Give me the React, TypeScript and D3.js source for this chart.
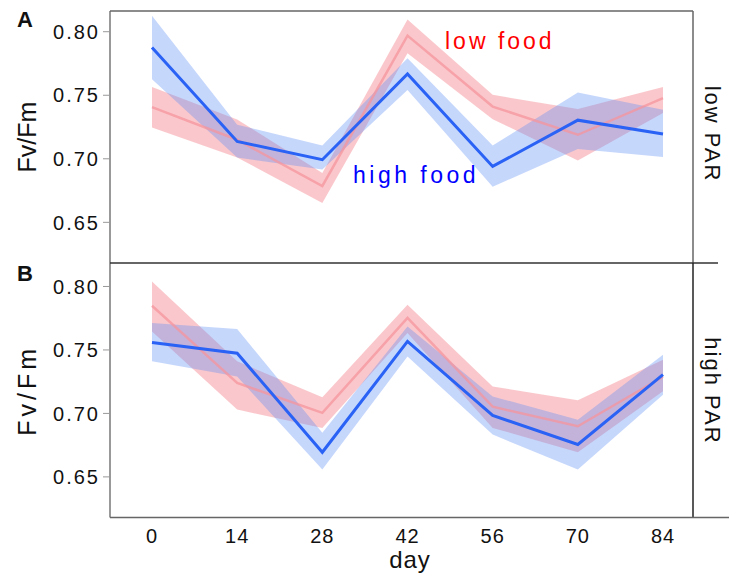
import React from 'react';
import { scaleLinear, line, area } from 'd3';

const days = [0, 14, 28, 42, 56, 70, 84];
const yTicks = [0.65, 0.7, 0.75, 0.8];

// panel A (low PAR)
const aHighMean = [0.7875, 0.7137, 0.6993, 0.7668, 0.694, 0.7304, 0.7195];
const aHighLo = [0.7626, 0.701, 0.6915, 0.7542, 0.678, 0.7077, 0.7014];
const aHighHi = [0.8126, 0.7268, 0.7105, 0.7791, 0.7105, 0.7521, 0.7385];
const aLowMean = [0.7407, 0.715, 0.6786, 0.7969, 0.7411, 0.7189, 0.7477];
const aLowLo = [0.7247, 0.701, 0.6653, 0.783, 0.7312, 0.6987, 0.736];
const aLowHi = [0.7564, 0.731, 0.6889, 0.8097, 0.7503, 0.7391, 0.7564];

// panel B (high PAR)
const bHighMean = [0.7559, 0.7474, 0.6694, 0.7567, 0.6984, 0.6755, 0.7305];
const bHighLo = [0.741, 0.729, 0.6558, 0.7449, 0.6833, 0.6558, 0.7148];
const bHighHi = [0.7712, 0.7665, 0.6847, 0.7685, 0.7134, 0.6951, 0.7463];
const bLowMean = [0.7848, 0.724, 0.7004, 0.7753, 0.7053, 0.6899, 0.7289];
const bLowLo = [0.7646, 0.703, 0.6886, 0.7633, 0.6886, 0.6694, 0.7174];
const bLowHi = [0.8039, 0.741, 0.7127, 0.7856, 0.7213, 0.7103, 0.7423];

const font = '"Liberation Sans", Arial, sans-serif';
const left = 110;
const right = 693;

const x = scaleLinear().domain([0, 84]).range([152, 663]);

function Panel({ top, bottom, yMax, highMean, highLo, highHi, lowMean, lowLo, lowHi, ylabelSpacing }) {
  const y = scaleLinear().domain([0.618, yMax]).range([bottom, top]);
  const band = (lo, hi) =>
    area<number>()
      .x((d, i) => x(d))
      .y0((d, i) => y(lo[i]))
      .y1((d, i) => y(hi[i]))(days);
  const path = (vals) =>
    line<number>()
      .x((d) => x(d))
      .y((d, i) => y(vals[i]))(days);
  const mid = (top + bottom) / 2;
  return (
    <g>
      <path d={band(lowLo, lowHi)} fill="#f0606e" fillOpacity={0.35} />
      <path d={band(highLo, highHi)} fill="#5b8cf5" fillOpacity={0.35} />
      <path d={path(lowMean)} fill="none" stroke="#f5949c" strokeOpacity={0.75} strokeWidth={2.5} />
      <path d={path(highMean)} fill="none" stroke="#2962f5" strokeWidth={3} />
      <line x1={left} x2={left} y1={top} y2={bottom} stroke="#777" strokeWidth={1.5} />
      {yTicks.map((t) => (
        <g key={t}>
          <line x1={left - 7} x2={left} y1={y(t)} y2={y(t)} stroke="#999" strokeWidth={1} />
          <text
            x={left - 10}
            y={y(t)}
            dy="0.36em"
            textAnchor="end"
            fontSize={20}
            letterSpacing={2}
            fill="#111"
          >
            {t.toFixed(2)}
          </text>
        </g>
      ))}
      <text
        transform={`translate(36,${mid}) rotate(-90)`}
        textAnchor="middle"
        fontSize={25}
        letterSpacing={ylabelSpacing}
        fill="#111"
      >
        Fv/Fm
      </text>
    </g>
  );
}

export default function App() {
  return (
    <svg
      width={729}
      height={577}
      style={{ position: 'absolute', left: 0, top: 0, background: '#fff' }}
      fontFamily={font}
    >
      <rect width={729} height={577} fill="#fff" />
      <Panel
        top={11}
        bottom={263}
        yMax={0.8163}
        highMean={aHighMean}
        highLo={aHighLo}
        highHi={aHighHi}
        lowMean={aLowMean}
        lowLo={aLowLo}
        lowHi={aLowHi}
        ylabelSpacing={0}
      />
      <Panel
        top={263}
        bottom={517.5}
        yMax={0.8185}
        highMean={bHighMean}
        highLo={bHighLo}
        highHi={bHighHi}
        lowMean={bLowMean}
        lowLo={bLowLo}
        lowHi={bLowHi}
        ylabelSpacing={4}
      />

      {/* frames */}
      <line x1={left} x2={right} y1={11} y2={11} stroke="#666" strokeWidth={1.5} />
      <line x1={right} x2={right} y1={11} y2={263} stroke="#666" strokeWidth={1.5} />
      <line x1={left} x2={718} y1={263} y2={263} stroke="#333" strokeWidth={1.5} />
      <line x1={right} x2={right} y1={263} y2={517.5} stroke="#222" strokeWidth={1.5} />
      <line x1={left} x2={729} y1={517.5} y2={517.5} stroke="#666" strokeWidth={1.5} />

      {/* x axis */}
      {days.map((d) => (
        <text key={d} x={x(d)} y={543} textAnchor="middle" fontSize={20} letterSpacing={1} fill="#111">
          {d}
        </text>
      ))}
      <text x={410} y={568} textAnchor="middle" fontSize={24} letterSpacing={1} fill="#111">
        day
      </text>

      {/* annotations */}
      <text x={445} y={49} fontSize={23} letterSpacing={3} fill="#ff0000">
        low food
      </text>
      <text x={353} y={183} fontSize={23} letterSpacing={3.5} fill="#0000ff">
        high food
      </text>

      {/* strips */}
      <text transform="translate(705,134) rotate(90)" textAnchor="middle" fontSize={22} letterSpacing={2} fill="#111">
        low PAR
      </text>
      <text transform="translate(705,391) rotate(90)" textAnchor="middle" fontSize={22} letterSpacing={2} fill="#111">
        high PAR
      </text>

      {/* panel tags */}
      <text x={17} y={27} fontSize={22} fontWeight="bold" fill="#111">
        A
      </text>
      <text x={17} y={281} fontSize={22} fontWeight="bold" fill="#111">
        B
      </text>
    </svg>
  );
}
